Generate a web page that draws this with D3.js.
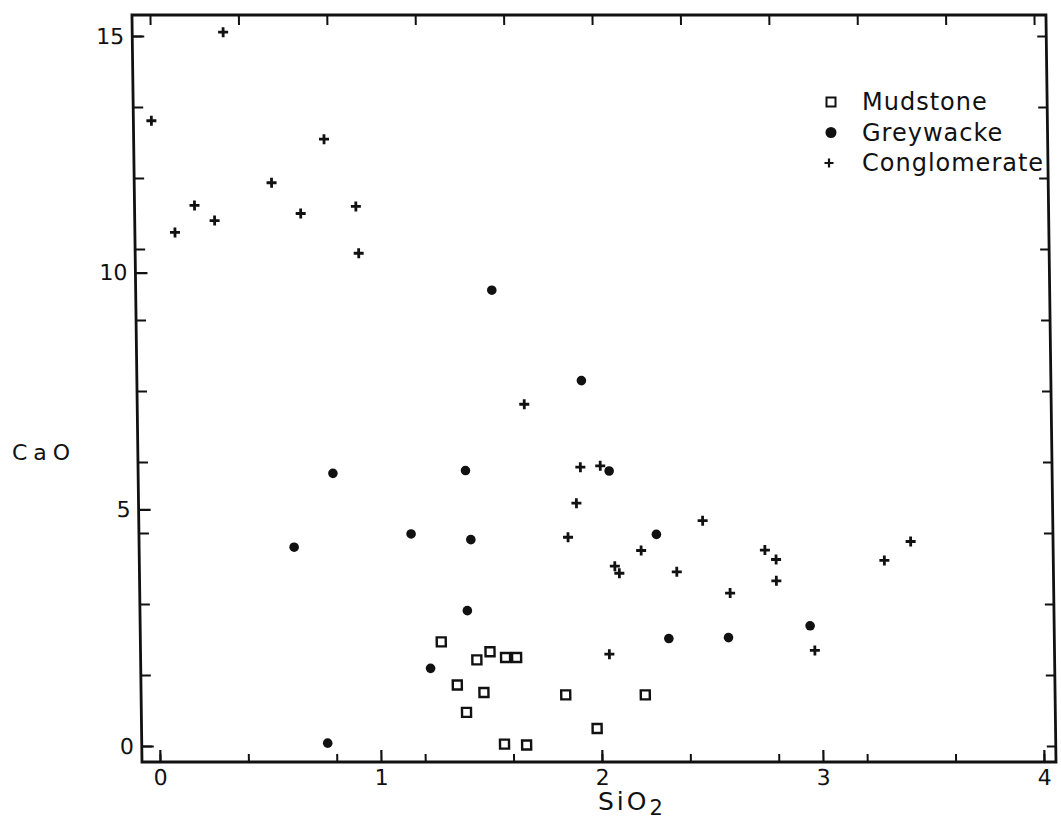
<!DOCTYPE html>
<html>
<head>
<meta charset="utf-8">
<title>CaO vs SiO2</title>
<script src="https://cdn.jsdelivr.net/npm/d3@7"></script>
<style>
  body { margin: 0; background: #fff; }
  svg text { font-family: "DejaVu Sans", sans-serif; fill: #111; }
</style>
</head>
<body>
<div id="home"></div>
<script>
// points: [SiO2, CaO]
const mudstone = [[1.28, 2.20], [1.44, 1.82], [1.50, 1.99], [1.57, 1.87], [1.62, 1.87],
  [1.35, 1.29], [1.47, 1.13], [1.39, 0.71], [1.84, 1.08], [2.20, 1.08], [1.98, 0.37],
  [1.56, 0.04], [1.66, 0.02]];
const greywacke = [[1.53, 9.63], [1.93, 7.72], [1.40, 5.82], [2.05, 5.81], [1.15, 4.48],
  [1.42, 4.36], [2.26, 4.47], [2.58, 2.29], [2.95, 2.54], [1.40, 2.86], [1.23, 1.64],
  [2.31, 2.27], [0.76, 0.06], [0.80, 5.76], [0.62, 4.20]];
const conglomerate = [[0.33, 15.08], [0.00, 13.21], [0.10, 10.85], [0.19, 11.42], [0.28, 11.10],
  [0.54, 11.90], [0.67, 11.25], [0.78, 12.82], [0.92, 11.40], [0.93, 10.41], [1.67, 7.22],
  [1.92, 5.89], [2.01, 5.92], [1.90, 5.13], [1.86, 4.41], [2.47, 4.76], [2.19, 4.13],
  [2.07, 3.80], [2.09, 3.65], [2.35, 3.68], [2.59, 3.23], [2.75, 4.14], [2.80, 3.94],
  [2.80, 3.49], [2.97, 2.02], [3.29, 3.92], [3.41, 4.32], [2.04, 1.94]];

const xLabels = [0, 1, 2, 3, 4];
const yLabels = [0, 5, 10, 15];
const xMinor = [0, 0.4, 0.8, 1.2, 1.6, 2.0, 2.4, 2.8, 3.2, 3.6, 4.0];
const yMinor = [0, 1.5, 3, 4.5, 6, 7.5, 9, 10.5, 12, 13.5, 15];
const legendNames = ["Mudstone", "Greywacke", "Conglomerate"];

const w = 1061, h = 821;
const frameL = 142, frameR = 1056, frameT = 15, frameB = 762;

const svg = d3.select("#home").append("svg")
  .attr("width", w)
  .attr("height", h);

const x = d3.scaleLinear().domain([0, 4]).range([160, 1044]);
const y = d3.scaleLinear().domain([0, 15]).range([746, 36]);

// the scanned figure is slightly sheared, top leans left
const g = svg.append("g")
  .attr("transform", `translate(0,${frameB}) skewX(0.77) translate(0,${-frameB})`);

function styleAxis(sel, width) {
  sel.select(".domain").remove();
  sel.selectAll("line").attr("stroke", "#111").attr("stroke-width", width);
  sel.attr("font-size", 22).attr("font-family", null);
}

// bottom
g.append("g").attr("transform", `translate(0,${frameB})`)
  .call(d3.axisBottom(x).tickValues(xMinor).tickSize(-8).tickFormat(""))
  .call(s => styleAxis(s, 2));
g.append("g").attr("transform", `translate(0,${frameB})`)
  .call(d3.axisBottom(x).tickValues(xLabels).tickSize(-12).tickPadding(7).tickFormat(d3.format("d")))
  .call(s => styleAxis(s, 2.2));

// top
g.append("g").attr("transform", `translate(0,${frameT})`)
  .call(d3.axisTop(x).tickValues(xMinor).tickSize(-10).tickFormat(""))
  .call(s => styleAxis(s, 2));

// left
g.append("g").attr("transform", `translate(${frameL},0)`)
  .call(d3.axisLeft(y).tickValues(yMinor).tickSize(-10).tickFormat(""))
  .call(s => styleAxis(s, 2));
g.append("g").attr("transform", `translate(${frameL},0)`)
  .call(d3.axisLeft(y).tickValues(yLabels).tickSize(-12).tickPadding(8).tickFormat(d3.format("d")))
  .call(s => styleAxis(s, 2.2));

// right
g.append("g").attr("transform", `translate(${frameR},0)`)
  .call(d3.axisRight(y).tickValues(yMinor).tickSize(-9).tickFormat(""))
  .call(s => styleAxis(s, 2));

// frame
g.append("rect")
  .attr("x", frameL).attr("y", frameT)
  .attr("width", frameR - frameL).attr("height", frameB - frameT)
  .attr("fill", "none").attr("stroke", "#111").attr("stroke-width", 2.8);

// marks
g.selectAll(".mud").data(mudstone).enter().append("rect")
  .attr("class", "mud")
  .attr("x", d => x(d[0]) - 4.5).attr("y", d => y(d[1]) - 4.5)
  .attr("width", 9).attr("height", 9)
  .attr("fill", "#fff").attr("stroke", "#111").attr("stroke-width", 2.4);

g.selectAll(".grey").data(greywacke).enter().append("circle")
  .attr("class", "grey")
  .attr("cx", d => x(d[0])).attr("cy", d => y(d[1]))
  .attr("r", 4.8).attr("fill", "#111");

g.selectAll(".cong").data(conglomerate).enter().append("path")
  .attr("class", "cong")
  .attr("transform", d => `translate(${x(d[0])},${y(d[1])})`)
  .attr("d", "M-5,0H5M0,-5V5")
  .attr("stroke", "#111").attr("stroke-width", 2.8);

// legend
const lg = svg.append("g").attr("transform", "translate(831,102)");
legendNames.forEach((name, i) => {
  const row = lg.append("g").attr("transform", `translate(0,${i * 30.5})`);
  if (i === 0) {
    row.append("rect").attr("x", -4.5).attr("y", -4.5).attr("width", 9).attr("height", 9)
      .attr("fill", "#fff").attr("stroke", "#111").attr("stroke-width", 2);
  } else if (i === 1) {
    row.append("circle").attr("r", 5.5).attr("fill", "#111");
  } else {
    row.append("path").attr("d", "M-4.5,0H4.5M0,-4.5V4.5")
      .attr("transform", "translate(-2,0)")
      .attr("stroke", "#111").attr("stroke-width", 2.2);
  }
  row.append("text")
    .attr("x", 31).attr("y", 8)
    .attr("font-size", 24)
    .attr("letter-spacing", 1)
    .text(name);
});

// axis titles
svg.append("text")
  .attr("x", 12).attr("y", 460)
  .attr("font-size", 22)
  .attr("letter-spacing", 6)
  .text("CaO");

const xt = svg.append("text")
  .attr("x", 598).attr("y", 810)
  .attr("font-size", 25)
  .attr("letter-spacing", 3);
xt.append("tspan").text("SiO");
xt.append("tspan").attr("font-size", 21).attr("dy", 5).text("2");
</script>
</body>
</html>
